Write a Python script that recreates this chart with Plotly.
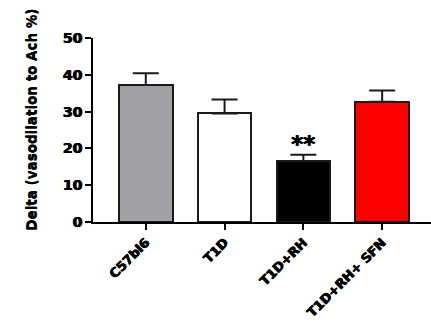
import plotly.graph_objects as go

# Vasodilation response per group
groups = ["C57bl6", "T1D", "T1D+RH", "T1D+RH+ SFN"]
mean_delta = [37.2, 29.5, 16.6, 32.7]
sem_delta = [3.2, 3.8, 1.7, 3.0]
bar_colors = ["#a2a1a6", "#ffffff", "#000000", "#ff0000"]
y_ticks = [0, 10, 20, 30, 40, 50]

FONT = "DejaVu Sans"
# slight horizontal shadow to give the heavy, wide lettering
HEAVY = "0.7px 0 0 #000000, -0.3px 0 0 #000000"

fig = go.Figure(
    go.Bar(
        x=list(range(len(groups))),
        y=mean_delta,
        width=0.68,
        marker=dict(color=bar_colors, line=dict(color="#1a1a1a", width=2)),
        error_y=dict(
            type="data",
            symmetric=False,
            array=sem_delta,
            arrayminus=[0] * len(groups),
            color="#1a1a1a",
            thickness=2,
            width=13,
        ),
    )
)

# significance marker above the T1D+RH bar
fig.add_annotation(
    x=2, y=mean_delta[2] + sem_delta[2],
    text="**", showarrow=False,
    yanchor="bottom", yshift=-4,
    font=dict(family=FONT, size=23, color="#000000", weight="bold", shadow=HEAVY),
)

# y-axis title
fig.add_annotation(
    xref="paper", yref="paper",
    x=-0.1834, y=0.556,
    text="Delta (vasodilation to Ach %)",
    textangle=-90, showarrow=False,
    xanchor="center", yanchor="middle",
    font=dict(family=FONT, size=13.5, color="#000000", weight="bold",
              shadow="0 0.6px 0 #000000"),
)

fig.update_layout(
    width=431, height=324,
    margin=dict(l=93, r=0, t=38, b=102, autoexpand=False),
    paper_bgcolor="#ffffff",
    plot_bgcolor="#ffffff",
    showlegend=False,
    bargap=0,
)

fig.update_xaxes(
    range=[-0.67, 3.62],
    tickmode="array",
    tickvals=list(range(len(groups))),
    ticktext=groups,
    tickangle=-45,
    automargin=False,
    showline=True, linewidth=2, linecolor="#000000",
    ticks="outside", ticklen=6, tickwidth=2, tickcolor="#000000",
    showgrid=False, zeroline=False,
    tickfont=dict(family=FONT, size=13, color="#000000", weight="bold", shadow=HEAVY),
)

fig.update_yaxes(
    range=[0, 50],
    tickmode="array",
    tickvals=y_ticks,
    automargin=False,
    showline=True, linewidth=2, linecolor="#000000",
    ticks="outside", ticklen=6, tickwidth=2, tickcolor="#000000",
    showgrid=False, zeroline=False,
    tickfont=dict(family=FONT, size=14, color="#000000", weight="bold", shadow=HEAVY),
)

fig.write_html("out.html")
